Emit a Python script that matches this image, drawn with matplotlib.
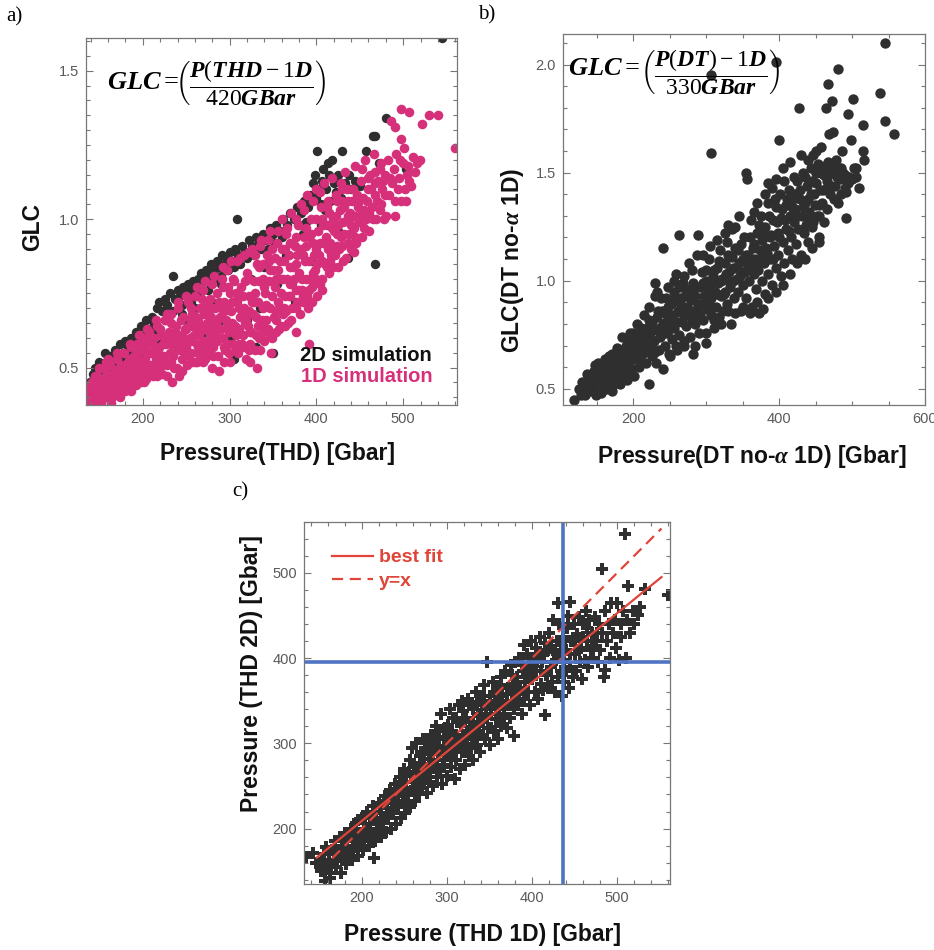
import matplotlib.pyplot as plt
from matplotlib.ticker import MultipleLocator, FormatStrFormatter

plt.rcParams['font.family'] = ['Liberation Sans', 'DejaVu Sans']
plt.rcParams['mathtext.fontset'] = 'custom'
plt.rcParams['mathtext.rm'] = 'Liberation Serif'
plt.rcParams['mathtext.it'] = 'Liberation Serif:italic:bold'
plt.rcParams['mathtext.bf'] = 'Liberation Serif:bold'

# ---- panel a: GLC vs Pressure(THD), 2D (black) and 1D (pink) simulations
a_2d_pts = [
    (139, .45), (142, .48), (145, .50), (148, .47), (150, .52), (153, .50), (156, .55), (159, .52), (162, .54),
    (165, .51), (168, .56), (171, .54), (174, .58), (177, .55), (180, .59), (183, .57), (186, .60), (189, .58),
    (192, .62), (195, .60), (198, .64), (201, .61), (204, .66), (207, .63), (210, .67), (213, .65), (216, .70),
    (219, .72), (222, .69), (225, .73), (228, .71), (231, .75), (235, .81), (237, .73), (240, .76), (243, .74),
    (246, .77), (249, .75),
    (147, .45), (157, .49), (167, .51), (176, .53), (185, .55), (195, .57), (205, .60), (215, .63), (225, .66),
    (235, .69), (245, .71),
    (252, .78), (255, .76), (258, .79), (261, .77), (264, .80), (267, .82), (270, .79), (273, .83), (276, .81),
    (279, .85), (282, .83), (285, .86), (288, .84), (291, .88), (294, .85), (297, .87), (300, .89), (303, .86),
    (308, 1.00), (306, .90), (310, .88), (314, .91), (318, .89), (322, .93), (326, .91), (330, .94), (334, .92),
    (338, .95), (342, .93), (346, .97), (350, .95), (354, .98), (358, .96), (362, 1.00), (366, .98), (370, 1.02),
    (255, .72), (262, .74), (268, .70), (275, .76), (283, .79), (290, .81), (298, .83), (305, .84), (312, .85),
    (320, .87), (328, .88), (336, .90), (344, .90), (352, .92), (360, .94),
    (374, 1.00), (378, 1.04), (382, 1.02), (386, 1.06), (390, 1.04), (393, 1.08), (396, 1.12), (398, 1.15),
    (401, 1.23), (403, 1.10), (406, 1.13), (408, 1.17), (411, 1.10), (413, 1.19), (415, 1.15), (418, 1.20),
    (420, 1.12), (422, 1.09), (425, 1.15), (428, 1.07), (430, 1.23), (433, 1.12), (437, 1.15), (440, 1.10),
    (444, 1.13), (450, 1.11), (457, 1.23), (465, 1.28), (468, 1.28), (472, 1.19), (480, 1.34), (503, 1.17),
    (545, 1.61), (400, 1.07), (405, 1.05), (410, 1.03), (416, 1.06), (380, .98), (388, .99),
    (180, .48), (200, .53), (220, .58), (240, .60), (250, .66), (260, .70), (270, .62), (280, .72), (290, .66),
    (300, .60), (305, .53), (310, .74), (320, .66), (325, .80), (330, .57), (335, .70), (340, .84), (345, .62),
    (355, .78), (365, .88), (375, .72), (385, .95), (395, .86), (405, .98), (415, 1.02), (425, .96), (436, .87),
    (467, .85), (350, .55), (290, .78), (245, .68), (215, .62),
]
a_1d_pts = [
    (136, .38), (138, .42), (140, .40), (141, .45), (143, .39), (144, .43), (146, .41), (147, .47), (149, .44),
    (150, .39), (152, .42), (153, .46), (155, .50), (156, .40), (158, .44), (159, .48), (161, .42), (162, .51),
    (164, .46), (165, .40), (167, .44), (168, .49), (170, .53), (171, .42), (172, .47), (174, .45), (175, .51),
    (177, .43), (178, .55), (180, .48), (181, .44), (183, .52), (184, .46), (186, .57), (187, .50), (189, .44),
    (190, .54), (192, .48), (193, .58), (195, .46), (196, .52), (198, .56), (199, .49), (200, .60), (201, .45),
    (203, .53), (204, .58), (206, .48), (207, .62), (209, .51), (210, .55), (212, .47), (213, .60), (215, .53),
    (216, .64), (218, .50), (219, .57), (221, .61), (222, .48), (224, .54), (225, .66), (227, .58), (228, .51),
    (230, .62), (231, .55), (233, .68), (234, .45), (235, .59), (236, .50), (238, .64), (239, .56), (241, .70),
    (242, .47), (243, .61), (245, .53), (246, .67), (248, .58), (249, .63), (251, .51), (252, .72), (254, .60),
    (255, .55), (257, .68), (258, .64), (260, .52), (260, .74), (262, .58), (262, .52), (263, .66), (265, .61),
    (266, .70), (268, .56), (269, .76), (271, .63), (272, .53), (274, .68), (275, .59), (277, .73), (278, .65),
    (280, .50), (280, .78), (281, .57), (283, .70), (284, .62), (286, .75), (287, .54), (288, .49), (289, .67),
    (291, .80), (292, .60), (293, .72), (295, .56), (296, .66), (297, .83), (299, .62), (300, .75), (301, .52),
    (302, .69), (304, .58), (305, .79), (306, .64), (308, .86), (309, .72), (310, .55), (312, .67), (313, .77),
    (315, .61), (316, .88), (317, .70), (319, .53), (320, .82), (321, .64), (322, .74), (323, .52), (324, .58),
    (326, .90), (327, .68), (328, .79), (330, .61), (331, .85), (332, .50), (333, .72), (335, .56), (336, .93),
    (337, .66), (339, .80), (340, .59), (341, .75), (343, .88), (344, .63), (346, .70), (347, .96), (348, .55),
    (350, .83), (351, .67), (352, .77), (354, .62), (355, .92), (356, .72), (357, .63), (358, .86), (360, 1.00),
    (361, .68), (362, .80), (364, .74), (365, .95), (367, .65), (368, .88), (369, .78), (371, 1.02), (372, .70),
    (373, .84), (375, .91), (376, .62), (377, .76), (379, .98), (380, .82), (381, .68), (382, 1.05), (384, .88),
    (385, .74), (386, .94), (388, .80), (389, 1.08), (390, .70), (392, .58), (392, .86), (394, 1.00), (395, .77),
    (396, .92), (398, .83), (399, 1.10), (401, .74), (402, .96), (403, .88), (405, 1.04), (406, .80), (408, .92),
    (409, 1.12), (410, .85), (412, .98), (413, 1.06), (415, .82), (416, .92), (418, 1.14), (419, 1.00), (421, .88),
    (422, 1.08), (424, .95), (425, .84), (427, 1.03), (428, 1.12), (430, .91), (431, .99), (433, 1.16), (434, .87),
    (436, 1.06), (437, .95), (439, 1.02), (440, .90), (442, 1.10), (443, .97), (445, 1.18), (446, .92), (448, 1.04),
    (449, .99), (451, 1.13), (452, .94), (454, 1.07), (456, 1.20), (457, 1.00), (459, 1.10), (461, .96), (462, 1.15),
    (464, 1.04), (466, 1.22), (467, 1.08), (469, 1.00), (471, 1.13), (473, 1.17), (474, 1.05), (476, 1.10),
    (478, 1.00), (479, 1.15), (480, 1.01), (482, 1.20), (484, 1.08), (486, 1.33), (487, 1.12), (489, 1.17),
    (490, 1.31), (490, 1.01), (492, 1.22), (494, 1.10), (495, 1.14), (497, 1.27), (497, 1.37), (498, 1.06),
    (500, 1.19), (501, 1.24), (503, 1.06), (504, 1.15), (505, 1.18), (507, 1.13), (507, 1.36), (509, 1.11),
    (511, 1.21), (514, 1.16), (516, 1.19), (519, 1.20), (522, 1.32), (530, 1.35), (540, 1.35), (560, 1.24),
    (139, .44), (142, .37), (145, .47), (148, .40), (151, .45), (154, .43), (157, .52), (160, .45), (163, .43),
    (166, .48), (169, .45), (173, .50), (176, .48), (179, .45), (182, .50), (185, .53), (188, .47), (191, .51),
    (194, .55), (197, .49), (202, .56), (205, .51), (208, .55), (211, .58), (214, .50), (217, .56), (220, .54),
    (223, .58), (226, .52), (229, .60), (232, .58), (235, .54), (237, .62), (240, .58), (244, .56), (247, .60),
    (250, .57), (253, .64), (256, .59), (259, .61), (261, .67), (264, .57), (267, .64), (270, .59), (273, .71),
    (276, .62), (279, .67), (282, .64), (285, .59), (288, .72), (290, .63), (294, .69), (298, .58), (298, .77),
    (303, .65), (307, .61), (307, .75), (311, .70), (314, .58), (318, .65), (318, .79), (322, .69), (325, .62),
    (329, .75), (329, .88), (333, .64), (334, .79), (338, .70), (338, .85), (342, .66), (345, .79), (349, .74),
    (349, .90), (353, .69), (356, .83), (359, .75), (363, .86), (363, .70), (366, .80), (370, .92), (370, .74),
    (374, .80), (378, .88), (378, .72), (383, .80), (387, .86), (391, .94), (393, .80), (397, .88), (400, 1.00),
    (404, .92), (407, .86), (411, .94), (414, 1.02), (417, .88), (420, .96), (423, 1.01), (426, .90), (429, 1.06),
    (432, .95), (435, 1.10), (438, .99), (441, 1.06), (444, .94), (447, 1.08), (450, 1.01), (453, 1.17),
    (455, 1.03), (458, 1.06), (460, 1.14), (463, 1.10), (465, 1.00), (468, 1.16), (470, 1.06), (475, 1.19),
    (477, 1.13),
    (253, .54), (256, .66), (264, .62), (267, .54), (270, .68), (276, .55), (279, .60), (285, .66), (290, .70),
    (294, .52), (298, .64), (303, .72), (307, .56), (311, .63), (315, .74), (319, .66), (322, .56), (326, .72),
    (330, .67), (334, .60), (338, .62), (342, .71), (345, .86), (349, .60), (353, .80), (357, .70), (360, .90),
    (364, .64), (368, .74), (372, .78), (376, .85), (380, .76), (384, .72), (388, .91), (392, .76), (396, .82),
    (400, .80), (404, .78), (408, .98), (412, .84), (416, .86), (420, .90), (424, 1.06), (428, .94), (432, 1.04),
    (436, .92), (440, .98), (444, 1.01),
    (150, .50), (160, .53), (170, .55), (185, .58), (195, .61), (205, .63), (215, .66), (228, .68), (240, .72),
    (250, .74), (262, .77), (272, .79), (282, .81), (292, .84), (302, .86), (312, .87), (322, .89), (335, .91),
    (344, .93), (356, .96), (366, .97), (376, 1.00), (386, 1.03), (396, 1.06), (404, 1.09),
    (146, .37), (152, .38), (158, .40), (163, .38), (169, .41), (174, .40), (180, .42), (186, .42), (192, .44),
    (198, .45), (204, .46), (210, .49), (216, .47), (222, .51), (228, .47), (233, .52), (239, .50), (245, .49),
    (251, .55), (257, .52), (263, .55), (269, .52), (275, .57), (281, .54), (287, .60), (293, .57), (299, .55),
    (305, .62), (311, .58), (317, .57), (323, .62), (329, .56), (335, .64), (341, .63), (347, .61), (353, .66),
    (359, .64), (365, .69), (371, .66), (377, .70), (383, .76), (389, .74), (395, .72), (401, .85), (407, .76),
    (413, .90), (419, .84), (425, .98), (431, .86), (437, 1.00), (443, .89), (449, 1.06), (455, .97), (461, 1.02),
    (467, 1.12), (473, 1.03), (479, 1.08), (485, 1.14), (491, 1.06), (496, 1.20), (502, 1.10),
    (202, .50), (208, .59), (214, .56), (220, .63), (226, .60), (232, .65), (238, .60), (244, .66), (250, .63),
    (256, .70), (262, .64), (268, .73), (274, .65), (280, .70), (286, .64), (292, .77), (298, .70), (304, .80),
    (310, .75), (316, .68), (322, .80), (328, .72), (334, .84), (340, .77), (346, .83), (352, .87), (358, .80),
    (364, .90), (370, .84), (376, .94), (382, .90), (388, .97), (394, .95), (400, .90), (406, 1.00), (412, 1.04),
    (418, .97), (424, .91), (430, 1.10), (436, 1.01),
]

# ---- panel b: GLC(DT no-alpha 1D) vs Pressure(DT no-alpha 1D)
b_pts = [
    (118, .45), (125, .50), (130, .53), (133, .47), (136, .57), (138, .52), (141, .49), (143, .55), (146, .58),
    (148, .47), (150, .52), (152, .62), (153, .56), (155, .48), (157, .60), (159, .53), (161, .64), (162, .50),
    (164, .57), (166, .61), (168, .54), (170, .66), (171, .49), (173, .58), (175, .63), (176, .55), (178, .69),
    (180, .60), (181, .52), (183, .66), (185, .74), (186, .57), (188, .62), (190, .70), (191, .54), (193, .65),
    (195, .76), (196, .60), (198, .68), (200, .72), (201, .56), (203, .64), (205, .80), (207, .69), (208, .60),
    (210, .75), (212, .66), (214, .84), (215, .71), (217, .62), (219, .78), (220, .69), (221, .52), (222, .88),
    (223, .74), (225, .65), (226, .81), (228, .72), (229, .99), (230, .93), (231, .62), (232, .77), (234, .86),
    (235, .68), (237, .74), (238, .92), (240, .80), (240, .59), (241, 1.15), (243, .70), (244, .85), (246, .76),
    (247, .97), (249, .66), (250, .82), (252, .89), (253, .73), (255, .95), (256, .78), (258, .70), (259, 1.03),
    (261, .86), (263, 1.21), (263, .75), (265, .92), (266, .81), (268, .99), (269, .72), (270, .88), (272, .79),
    (273, .95), (275, .84), (276, 1.08), (278, .74), (279, .91), (281, .86), (282, .66), (282, .99), (284, .80),
    (285, .93), (287, 1.12), (288, .84), (289, 1.21), (290, .76), (291, .97), (293, .89), (294, 1.04), (296, .82),
    (297, .93), (299, 1.00), (300, .71), (301, .87), (303, .96), (304, 1.10), (306, .84), (306, 1.59), (306, 1.95),
    (307, .92), (309, 1.02), (310, .78), (312, .95), (313, .88), (315, 1.06), (316, .99), (318, .83), (319, 1.14),
    (320, .93), (322, 1.01), (323, .86), (325, 1.08), (326, .95), (328, 1.18), (329, .89), (331, 1.04), (332, .97),
    (334, .80), (335, 1.11), (337, 1.00), (338, .92), (340, 1.25), (341, 1.06), (343, .95), (344, 1.14),
    (346, 1.02), (347, .86), (349, 1.09), (350, .98), (352, 1.20), (353, 1.04), (354, 1.50), (355, .92),
    (356, 1.47), (357, 1.12), (358, 1.00), (360, 1.07), (361, 1.28), (362, .88), (364, 1.15), (365, 1.03),
    (367, 1.10), (368, .96), (370, 1.22), (371, 1.05), (372, .85), (373, 1.14), (375, 1.30), (376, 1.00),
    (377, 1.19), (379, 1.08), (380, .94), (381, 1.25), (383, 1.13), (384, 1.36), (385, 1.03), (387, 1.20),
    (388, 1.10), (390, 1.43), (390, .98), (392, 1.28), (393, 1.16), (395, 1.06), (395, 2.01), (396, 1.34),
    (398, 1.22), (399, 1.12), (400, 1.65), (401, 1.40), (402, 1.02), (403, 1.29), (405, 1.18), (406, 1.46),
    (407, 1.08), (409, 1.35), (410, 1.24), (412, 1.14), (413, 1.42), (415, 1.30), (416, 1.20), (418, 1.10),
    (419, 1.38), (420, 1.27), (422, 1.33), (423, 1.17), (424, 1.46), (426, 1.24), (427, 1.80), (428, 1.38),
    (430, 1.12), (431, 1.30), (432, 1.50), (434, 1.22), (435, 1.36), (437, 1.26), (438, 1.44), (440, 1.18),
    (441, 1.32), (443, 1.52), (444, 1.40), (446, 1.27), (447, 1.58), (449, 1.35), (450, 1.45), (452, 1.30),
    (453, 1.54), (455, 1.20), (456, 1.42), (458, 1.62), (459, 1.36), (461, 1.49), (462, 1.27), (464, 1.80),
    (465, 1.43), (467, 1.91), (467, 1.55), (468, 1.68), (470, 1.40), (472, 1.50), (473, 1.83), (474, 1.69),
    (476, 1.44), (478, 1.56), (480, 1.36), (481, 1.98), (482, 1.52), (484, 1.47), (486, 1.60), (488, 1.50),
    (490, 1.43), (492, 1.41), (492, 1.29), (494, 1.77), (496, 1.48), (499, 1.65), (501, 1.84), (502, 1.52),
    (506, 1.48), (510, 1.43), (515, 1.60), (515, 1.72), (517, 1.56), (538, 1.87), (545, 2.10), (545, 1.74),
    (558, 1.68),
    (128, .47), (135, .50), (140, .55), (144, .51), (147, .61), (151, .57), (154, .53), (158, .58), (160, .50),
    (163, .60), (165, .54), (167, .65), (169, .58), (172, .62), (174, .52), (177, .59), (179, .65), (182, .61),
    (184, .56), (187, .67), (189, .60), (192, .72), (194, .63), (197, .58), (199, .76), (202, .67), (204, .73),
    (206, .64), (209, .70), (211, .78), (213, .73), (216, .67), (218, .74), (221, .82), (224, .70), (227, .77),
    (229, .67), (233, .83), (236, .78), (239, .86), (242, .76), (245, .81), (248, .88), (251, .78), (254, .84),
    (257, .92), (260, .81), (262, .90), (264, .97), (267, .85), (271, .93), (274, .88), (277, .96), (280, .82),
    (283, .91), (286, .97), (289, .88), (292, .84), (295, .99), (298, .90), (300, 1.05), (302, .93), (305, .98),
    (308, .88), (311, 1.05), (314, .94), (317, 1.09), (320, 1.00), (324, .94), (327, 1.03), (330, 1.12),
    (333, .99), (336, 1.06), (339, 1.15), (342, 1.01), (345, 1.08), (348, 1.17), (351, 1.04), (354, 1.12),
    (357, 1.06), (360, 1.20), (363, 1.09), (366, 1.17), (369, 1.06), (372, 1.26), (374, 1.10), (378, 1.23),
    (382, 1.15), (386, 1.30), (389, 1.21), (392, 1.10), (394, 1.38), (397, 1.27), (400, 1.20), (404, 1.33),
    (408, 1.28), (411, 1.38), (414, 1.23), (417, 1.34), (421, 1.40), (425, 1.30), (429, 1.42), (433, 1.34),
    (436, 1.48), (439, 1.38), (442, 1.28), (445, 1.46), (448, 1.40), (451, 1.50), (454, 1.35), (457, 1.50),
    (460, 1.42), (463, 1.53), (466, 1.46), (469, 1.50), (471, 1.44), (475, 1.52), (479, 1.48), (485, 1.52),
    (490, 1.49), (495, 1.45),
    (232, .95), (245, .92), (255, 1.00), (262, .98), (270, 1.02), (280, 1.05), (295, 1.12), (305, 1.16),
    (315, 1.19), (325, 1.22), (335, 1.24), (345, 1.30), (330, 1.26), (350, 1.10), (365, 1.32), (370, 1.36),
    (380, 1.40), (385, 1.45), (395, 1.47), (405, 1.52), (415, 1.55), (420, 1.48), (430, 1.58), (440, 1.56),
    (450, 1.60), (445, 1.25), (455, 1.30), (465, 1.33), (475, 1.38), (485, 1.40), (500, 1.47), (505, 1.52),
    (250, .65), (260, .68), (270, .70), (285, .70), (300, .76), (310, .82), (320, .80), (330, .86), (340, .85),
    (350, .88), (360, .85), (370, .90), (378, .87), (385, .92), (395, .95), (405, .98), (415, 1.03), (425, 1.08),
    (435, 1.10), (445, 1.15), (455, 1.18),
]

# ---- panel c: Pressure (THD 2D) vs Pressure (THD 1D)
c_pts = [
    (134, 167), (143, 171), (150, 160), (152, 150), (155, 170), (157, 138), (158, 178), (160, 158), (162, 148),
    (163, 142), (165, 175), (167, 162), (168, 185), (170, 155), (172, 170), (174, 190), (175, 148), (177, 180),
    (178, 165), (180, 195), (181, 158), (183, 185), (185, 172), (187, 200), (188, 163), (190, 190), (192, 178),
    (193, 207), (195, 168), (197, 195), (198, 185), (200, 212), (201, 175), (203, 200), (205, 190), (206, 220),
    (208, 180), (210, 205), (212, 195), (213, 226), (214, 165), (215, 186), (217, 212), (219, 200), (220, 230),
    (222, 190), (223, 218), (225, 206), (227, 238), (228, 196), (230, 224), (231, 212), (233, 245), (234, 200),
    (236, 230), (237, 218), (239, 252), (240, 205), (241, 238), (243, 225), (245, 260), (246, 212), (247, 246),
    (249, 232), (250, 270), (251, 218), (252, 255), (254, 240), (256, 280), (257, 225), (258, 262), (259, 295),
    (260, 248), (262, 232), (263, 272), (264, 300), (265, 255), (267, 240), (268, 285), (269, 265), (271, 248),
    (272, 305), (273, 276), (275, 258), (276, 292), (277, 242), (279, 282), (280, 266), (281, 310), (283, 250),
    (284, 296), (285, 275), (287, 320), (288, 260), (289, 288), (291, 305), (292, 268), (293, 335), (294, 252),
    (296, 296), (297, 280), (298, 318), (300, 262), (301, 305), (302, 288), (304, 340), (305, 272), (306, 315),
    (308, 295), (309, 258), (310, 330), (311, 280), (313, 305), (314, 345), (315, 270), (317, 320), (318, 290),
    (319, 338), (321, 275), (322, 310), (323, 298), (325, 352), (326, 285), (327, 325), (329, 305), (330, 340),
    (331, 280), (332, 318), (334, 360), (335, 298), (336, 332), (338, 312), (339, 290), (340, 350), (342, 325),
    (343, 368), (345, 305), (346, 340), (347, 395), (348, 318), (350, 356), (351, 298), (352, 335), (354, 372),
    (355, 315), (356, 346), (358, 328), (359, 362), (360, 305), (361, 340), (363, 378), (364, 320), (365, 355),
    (367, 335), (368, 385), (369, 345), (371, 318), (372, 365), (374, 330), (375, 392), (376, 350), (377, 370),
    (379, 309), (379, 340), (380, 395), (381, 358), (382, 378), (384, 345), (385, 400), (386, 365), (388, 335),
    (389, 385), (390, 415), (391, 352), (392, 372), (394, 405), (395, 360), (396, 390), (398, 345), (399, 420),
    (400, 375), (401, 398), (403, 360), (404, 412), (405, 385), (407, 352), (408, 405), (409, 425), (410, 370),
    (412, 395), (413, 362), (415, 333), (415, 418), (416, 380), (418, 408), (419, 365), (420, 430), (422, 390),
    (423, 372), (424, 445), (425, 410), (427, 360), (428, 398), (429, 420), (430, 378), (431, 465), (432, 440),
    (433, 405), (434, 385), (435, 355), (436, 425), (437, 398), (438, 372), (440, 410), (441, 435), (442, 449),
    (443, 365), (444, 466), (445, 390), (446, 420), (448, 378), (449, 440), (450, 405), (452, 385), (453, 428),
    (455, 448), (456, 395), (458, 412), (459, 375), (460, 440), (462, 398), (463, 455), (464, 420), (466, 390),
    (467, 445), (469, 410), (470, 430), (472, 400), (474, 448), (475, 420), (477, 395), (478, 440), (480, 410),
    (482, 504), (482, 430), (484, 378), (486, 386), (486, 455), (488, 420), (490, 440), (491, 400), (493, 465),
    (495, 430), (497, 445), (499, 412), (500, 465), (502, 398), (504, 440), (505, 425), (507, 455), (509, 546),
    (510, 400), (512, 445), (513, 484), (515, 430), (518, 455), (520, 440), (524, 450), (527, 460), (533, 481),
    (560, 474),
    (146, 160), (153, 162), (156, 152), (161, 170), (164, 155), (169, 178), (171, 163), (176, 172), (179, 188),
    (182, 175), (186, 192), (189, 180), (191, 200), (194, 188), (196, 210), (199, 195), (202, 188), (204, 212),
    (207, 200), (209, 215), (211, 185), (216, 220), (218, 208), (221, 225), (224, 198), (226, 232), (229, 215),
    (232, 236), (235, 222), (238, 242), (242, 230), (244, 250), (248, 238), (250, 255), (253, 228), (255, 266),
    (258, 244), (261, 275), (263, 258), (266, 270), (268, 250), (270, 290), (272, 262), (274, 295), (276, 270),
    (278, 300), (280, 255), (282, 290), (284, 280), (286, 300), (288, 272), (290, 315), (293, 292), (295, 275),
    (297, 308), (299, 290), (301, 322), (303, 300), (305, 285), (307, 330), (309, 310), (312, 295), (314, 325),
    (316, 305), (318, 350), (320, 298), (322, 330), (324, 315), (326, 345), (328, 295), (330, 325), (333, 308),
    (335, 348), (337, 320), (340, 335), (342, 310), (344, 355), (347, 330), (349, 345), (352, 318), (355, 360),
    (357, 340), (360, 350), (362, 325), (364, 368), (366, 345), (370, 358), (373, 345), (376, 380), (378, 360),
    (382, 365), (385, 350), (388, 392), (392, 360), (395, 380), (398, 400), (402, 385), (406, 395), (410, 385),
    (414, 405), (418, 380), (422, 412), (426, 395), (430, 405), (434, 415), (438, 395), (440, 385), (445, 405),
    (450, 420), (455, 410), (460, 425), (465, 435), (470, 412), (476, 430),
]
fit_x = [147, 552]
fit_y = [166, 495]
diag_x = [165, 552]
diag_y = [165, 552]
cut_x = 436
cut_y = 396

pink = '#d7307b'
dark = '#2f2f2f'
red = '#e0453a'
blue = '#4f74c4'
W, H = 934, 950


def style_axes(ax, xlim, ylim, xmaj, xmin, ymaj, ymin, yfmt):
    ax.set_xlim(*xlim)
    ax.set_ylim(*ylim)
    ax.xaxis.set_major_locator(MultipleLocator(xmaj))
    ax.xaxis.set_minor_locator(MultipleLocator(xmin))
    ax.yaxis.set_major_locator(MultipleLocator(ymaj))
    ax.yaxis.set_minor_locator(MultipleLocator(ymin))
    ax.yaxis.set_major_formatter(FormatStrFormatter(yfmt))
    ax.tick_params(which='both', direction='in', top=True, right=True,
                   colors='#777777', labelcolor='#5a5a5a', labelsize=10.5, pad=5, width=0.8)
    ax.tick_params(which='major', length=5)
    ax.tick_params(which='minor', length=3)
    for s in ax.spines.values():
        s.set_color('#777777')
        s.set_linewidth(0.9)


def box(l, t, r, b):
    return [l / W, 1 - b / H, (r - l) / W, (b - t) / H]


fig = plt.figure(figsize=(9.34, 9.5), dpi=100)

# panel a
ax = fig.add_axes(box(86, 38, 457, 405))
x, y = zip(*a_2d_pts)
ax.scatter(x, y, s=46, color=dark, linewidths=0)
x, y = zip(*a_1d_pts)
ax.scatter(x, y, s=48, color=pink, linewidths=0)
style_axes(ax, (134.5, 562), (0.374, 1.61), 100, 20, 0.5, 0.05, '%.1f')
ax.text(0.933, 0.136, '2D simulation', transform=ax.transAxes, ha='right', va='center',
        fontsize=14.5, fontweight='bold', color='#111111')
ax.text(0.933, 0.077, '1D simulation', transform=ax.transAxes, ha='right', va='center',
        fontsize=14.5, fontweight='bold', color=pink)
fig.text(107 / W, 1 - 82 / H, r'$GLC=$', ha='left', va='center', fontsize=19)
fig.text(175 / W, 1 - 84 / H, r'$\left(\dfrac{P(THD-1D}{420GBar}\right)$',
         ha='left', va='center', fontsize=17)

# panel b
ax = fig.add_axes(box(562.7, 34.3, 925, 405))
x, y = zip(*b_pts)
ax.scatter(x, y, s=56, color=dark, linewidths=0)
style_axes(ax, (103, 600), (0.425, 2.14), 200, 50, 0.5, 0.1, '%.1f')
fig.text(568 / W, 1 - 68 / H, r'$GLC=$', ha='left', va='center', fontsize=19)
fig.text(640 / W, 1 - 73 / H, r'$\left(\dfrac{P(DT)-1D}{330GBar}\right)$',
         ha='left', va='center', fontsize=17)

# panel c
ax = fig.add_axes(box(304, 521.7, 670, 884))
x, y = zip(*c_pts)
ax.scatter(x, y, s=70, marker='P', color=dark, linewidths=0)
ax.plot(fit_x, fit_y, color=red, lw=1.6, label='best fit')
ax.plot(diag_x, diag_y, color=red, lw=1.6, ls=(0, (5, 3)), label='y=x')
ax.axvline(cut_x, color=blue, lw=2.6)
ax.axhline(cut_y, color=blue, lw=2.6)
style_axes(ax, (132, 562), (135, 560), 100, 20, 100, 20, '%d')
ax.legend(loc='upper left', bbox_to_anchor=(0.0765, 0.925), frameon=False, borderpad=0,
          borderaxespad=0, handlelength=2.1, handletextpad=0.3, labelspacing=0.3,
          prop={'weight': 'bold', 'size': 14}, labelcolor=red)

# axis labels and panel letters
lab = dict(fontsize=16.5, fontweight='bold', color='#111111', ha='center', va='center')
fig.text(277 / W, 1 - 453 / H, 'Pressure(THD) [Gbar]', **lab)
fig.text(33 / W, 1 - 227 / H, 'GLC', rotation=90, **lab)
fig.text(752 / W, 1 - 456 / H, r'Pressure(DT no-$\alpha$ 1D) [Gbar]', **lab)
fig.text(512 / W, 1 - 260 / H, r'GLC(DT no-$\alpha$ 1D)', rotation=90, **lab)
fig.text(483 / W, 1 - 934 / H, 'Pressure (THD 1D) [Gbar]', **lab)
fig.text(252 / W, 1 - 674 / H, 'Pressure (THD 2D) [Gbar]', rotation=90, **lab)

let = dict(fontsize=15, family='Liberation Serif', ha='left', va='center')
fig.text(6 / W, 1 - 17 / H, 'a)', **let)
fig.text(478 / W, 1 - 15 / H, 'b)', **let)
fig.text(232 / W, 1 - 492 / H, 'c)', **let)

fig.savefig('out.png', dpi=100)
